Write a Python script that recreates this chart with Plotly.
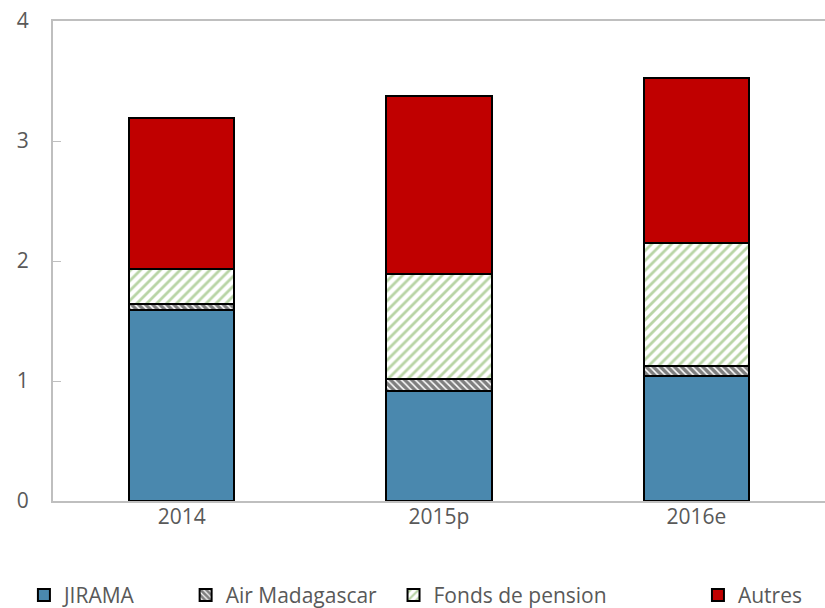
import plotly.graph_objects as go

categories = ["2014", "2015p", "2016e"]
jirama = [1.59, 0.92, 1.04]
air_madagascar = [0.05, 0.10, 0.085]
fonds_pension = [0.29, 0.87, 1.025]
autres = [1.26, 1.485, 1.375]

series_names = ["JIRAMA", "Air Madagascar", "Fonds de pension", "Autres"]

fig = go.Figure()
line = dict(color="black", width=2)
fig.add_trace(go.Bar(x=categories, y=jirama, name=series_names[0],
                     marker=dict(color="#4A88AE", line=line), legend="legend"))
fig.add_trace(go.Bar(x=categories, y=air_madagascar, name=series_names[1],
                     marker=dict(color="white", line=line,
                                 pattern=dict(shape="\\", fgcolor="black", bgcolor="white",
                                              size=5, solidity=0.7)),
                     legend="legend2"))
fig.add_trace(go.Bar(x=categories, y=fonds_pension, name=series_names[2],
                     marker=dict(color="white", line=line,
                                 pattern=dict(shape="/", fgcolor="#72AA4C", bgcolor="white",
                                              size=7, solidity=0.4)),
                     legend="legend3"))
fig.add_trace(go.Bar(x=categories, y=autres, name=series_names[3],
                     marker=dict(color="#C00000", line=line), legend="legend4"))

font = dict(family="Open Sans, Noto Sans, sans-serif", size=21, color="#595959")
legend_common = dict(orientation="h", yanchor="middle", y=0.021, xanchor="left",
                     xref="container", yref="container",
                     font=dict(family="Open Sans, Noto Sans, sans-serif", size=21, color="#595959"),
                     bgcolor="rgba(0,0,0,0)", borderwidth=0, itemclick=False)

fig.update_layout(
    barmode="stack",
    bargap=0.59,
    showlegend=True,
    width=825, height=608,
    margin=dict(l=53, r=0, t=21, b=107, autoexpand=False),
    plot_bgcolor="white", paper_bgcolor="white",
    font=font,
    legend=dict(legend_common, x=0.029),
    legend2=dict(legend_common, x=0.225),
    legend3=dict(legend_common, x=0.477),
    legend4=dict(legend_common, x=0.846),
    xaxis=dict(showline=True, linecolor="#BFBFBF", linewidth=2, mirror=True,
               ticks="", tickfont=font, ticklabelstandoff=-4),
    yaxis=dict(range=[0, 4], dtick=1, showgrid=False, showline=True, linecolor="#BFBFBF",
               linewidth=2, ticks="inside", ticklen=8, tickcolor="#BFBFBF",
               tickfont=font, zeroline=False, ticklabelstandoff=18),
)

fig.write_html("out.html", config={"displayModeBar": False},
               post_script="document.body.style.margin='0';document.body.style.overflow='hidden';")
